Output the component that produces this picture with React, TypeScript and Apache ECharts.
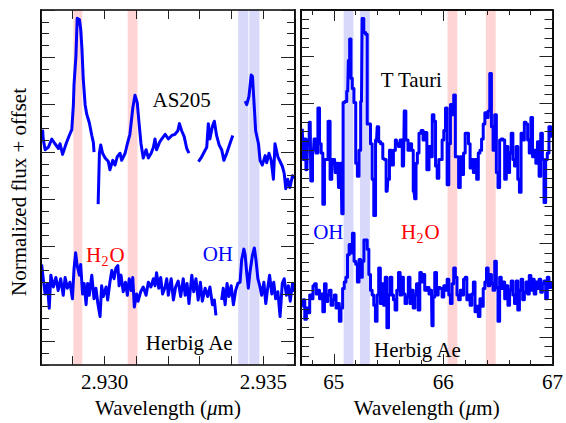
import React, { useEffect, useRef } from "react";
import * as echarts from "echarts";

const FONT = "Liberation Serif";

const leftRange = [2.928, 2.936];
const rightRange = [64.7, 67];
const leftTickValues = [2.93, 2.935];
const leftTickLabels = ["2.930", "2.935"];
const rightTickValues = [65, 66, 67];
const rightTickLabels = ["65", "66", "67"];

// AS205 (left, top) : [wavelength um, normalized flux + offset]
const as205 = [
  [2.92805, 19.9], [2.92807, 19.1], [2.92813, 18.2], [2.92823, 18.4], [2.92834, 19.1], [2.92844, 18.7],
  [2.92855, 18.3], [2.9286, 18.7], [2.92868, 17.8], [2.92879, 18.7], [2.92889, 19.4], [2.92897, 19.9],
  [2.92902, 22.0], [2.92904, 23.7], [2.9291, 26.1], [2.92914, 29.3], [2.92921, 29.2], [2.92925, 28.4],
  [2.92929, 26.7], [2.92933, 24.2], [2.92939, 22.0], [2.92944, 21.2], [2.92952, 20.5], [2.9296, 19.4],
  [2.92965, 18.8], [2.92967, 18.0], [2.92974, null], [2.9298, 13.6], [2.92984, 17.9], [2.92988, 18.6],
  [2.92994, 17.9], [2.93002, 17.5], [2.93012, 17.2], [2.93017, 16.5], [2.93026, 17.3], [2.93033, 16.9],
  [2.9304, 17.6], [2.93049, 17.9], [2.93054, 17.3], [2.93065, 17.9], [2.93072, 18.7], [2.9308, 19.5],
  [2.93089, 21.7], [2.93096, 22.8], [2.93103, 22.2], [2.93109, 20.4], [2.93115, 18.7], [2.93122, 17.5],
  [2.93131, 18.2], [2.93138, 17.5], [2.93147, 17.9], [2.93154, 18.4], [2.93159, 19.1], [2.93164, 18.2],
  [2.93173, 18.8], [2.9318, 19.1], [2.93191, 19.5], [2.93201, 19.1], [2.93212, 19.4], [2.93222, 19.5],
  [2.93231, 19.8], [2.93236, 20.4], [2.93243, 19.8], [2.93251, 19.3], [2.93259, 18.3], [2.93266, 17.9],
  [2.9328, null], [2.93296, 17.2], [2.93304, 17.5], [2.93314, 18.0], [2.93322, 18.4], [2.93327, 20.4],
  [2.93332, 19.1], [2.9334, 20.2], [2.93346, 20.6], [2.93353, 19.4], [2.93361, 18.6], [2.93369, 18.2],
  [2.93376, 17.3], [2.93385, 17.9], [2.93395, 18.7], [2.93404, 19.4], [2.9342, null], [2.93443, 22.3],
  [2.93448, 22.0], [2.93455, 22.7], [2.93462, 24.5], [2.93466, 24.4], [2.93472, 21.7], [2.93476, 19.8],
  [2.93485, 18.7], [2.9349, 17.3], [2.93497, 16.9], [2.93506, 17.7], [2.93511, 17.1], [2.93518, 17.9],
  [2.93525, 17.3], [2.93532, 15.7], [2.93537, 18.7], [2.93546, 17.6], [2.93553, 17.2], [2.9356, 16.8],
  [2.93566, 16.2], [2.93571, 14.9], [2.93577, 15.7], [2.93584, 15.0], [2.93592, 16.0], [2.93598, 15.8],
];

// Herbig Ae (left, bottom)
const herbigLeft = [
  [2.92802, 8.5], [2.92807, 7.3], [2.92813, 6.0], [2.9282, 6.9], [2.92826, 4.8], [2.92831, 7.6],
  [2.92839, 6.6], [2.92847, 7.4], [2.92854, 6.3], [2.92862, 7.3], [2.9287, 5.9], [2.92876, 7.4],
  [2.92883, 6.5], [2.92891, 7.0], [2.92899, 5.6], [2.92904, 8.1], [2.92909, 9.5], [2.92914, 8.4],
  [2.92921, 7.6], [2.92925, 8.5], [2.92931, 6.0], [2.92936, 6.9], [2.92942, 5.1], [2.92947, 6.9],
  [2.92952, 5.9], [2.9296, 7.6], [2.92967, 5.6], [2.92973, 6.5], [2.92979, 5.2], [2.92986, 4.1],
  [2.92991, 6.7], [2.92996, 5.8], [2.93005, 6.6], [2.9301, 5.5], [2.93017, 7.0], [2.93023, 8.0],
  [2.9303, 7.3], [2.93036, 8.2], [2.93042, 8.4], [2.93046, 6.7], [2.93052, 7.6], [2.93059, 6.2],
  [2.93066, 7.0], [2.93072, 5.9], [2.93078, 7.3], [2.93084, 6.3], [2.93089, 7.4], [2.93094, 4.9],
  [2.93101, 6.0], [2.93106, 5.4], [2.93114, 6.2], [2.93122, 6.6], [2.93131, 5.9], [2.93138, 7.0],
  [2.93146, 6.6], [2.93154, 7.3], [2.93159, 6.7], [2.93164, 7.8], [2.93171, 6.5], [2.93177, 7.4],
  [2.93183, 6.0], [2.93191, 6.6], [2.93196, 7.3], [2.93201, 5.9], [2.9321, 7.3], [2.93217, 5.5],
  [2.93224, 6.6], [2.93232, 7.1], [2.9324, 5.8], [2.93248, 7.3], [2.93254, 5.9], [2.9326, 6.9],
  [2.93266, 5.2], [2.93275, 7.6], [2.93281, 6.2], [2.93288, 7.3], [2.93295, 5.5], [2.93302, 7.0],
  [2.93308, 5.4], [2.93317, 6.5], [2.93325, 5.8], [2.93332, 6.6], [2.9334, 5.1], [2.93346, 5.5],
  [2.93351, 4.2], [2.9336, null], [2.93369, 5.5], [2.93374, 6.5], [2.9338, 5.1], [2.93386, 6.9],
  [2.93392, 5.8], [2.93399, 6.7], [2.93406, 5.1], [2.93413, 6.3], [2.9342, 6.9], [2.93427, 7.0],
  [2.93432, 8.9], [2.93439, 9.8], [2.93443, 9.3], [2.93448, 7.8], [2.93453, 6.5], [2.93458, 7.8],
  [2.93466, 9.3], [2.93472, 9.9], [2.93477, 8.9], [2.93483, 7.3], [2.93489, 6.7], [2.93495, 5.9],
  [2.93502, 7.0], [2.93508, 5.2], [2.93514, 6.5], [2.9352, 7.6], [2.93527, 6.0], [2.93533, 7.0],
  [2.93539, 5.6], [2.93546, 6.2], [2.93553, 4.1], [2.9356, 6.9], [2.93566, 7.3], [2.93573, 5.9],
  [2.93579, 6.7], [2.93585, 5.4], [2.93592, 6.9], [2.93598, 6.2],
];

// T Tauri (right, top)
const tTauri = [
  [64.712, 25.3], [64.724, 22.0], [64.736, 24.2], [64.754, 20.9], [64.766, 24.1], [64.784, 26.0],
  [64.796, 19.7], [64.814, 23.0], [64.826, 24.2], [64.847, 22.7], [64.862, 27.5], [64.877, 23.7],
  [64.892, 22.7], [64.907, 17.2], [64.922, 22.0], [64.937, 22.0], [64.958, 26.1], [64.974, 19.9],
  [64.989, 22.0], [65.007, 22.0], [65.019, 20.6], [65.037, 21.6], [65.049, 19.0], [65.067, 21.6],
  [65.079, 16.2], [65.091, 28.1], [65.109, 28.2], [65.127, 29.3], [65.139, 32.6], [65.151, 34.9],
  [65.163, 30.7], [65.175, 29.6], [65.193, 28.1], [65.208, 21.6], [65.223, 20.2], [65.238, 23.0],
  [65.253, 28.2], [65.265, 37.1], [65.283, 35.6], [65.298, 35.4], [65.313, 25.8], [65.328, 25.8],
  [65.343, 23.7], [65.358, 19.9], [65.373, 16.0], [65.391, 24.1], [65.403, 25.5], [65.418, 23.9],
  [65.439, 23.7], [65.457, 22.1], [65.469, 22.0], [65.488, 18.6], [65.5, 19.9], [65.518, 23.0],
  [65.536, 21.4], [65.554, 23.0], [65.572, 24.1], [65.584, 23.7], [65.599, 23.4], [65.614, 24.1],
  [65.638, 21.3], [65.65, 27.2], [65.668, 24.1], [65.689, 23.0], [65.704, 23.7], [65.719, 23.0],
  [65.734, 18.6], [65.746, 17.8], [65.758, 21.6], [65.77, 22.7], [65.788, 24.8], [65.809, 25.1],
  [65.824, 24.1], [65.839, 24.9], [65.863, 20.9], [65.878, 23.4], [65.893, 22.3], [65.908, 26.8],
  [65.923, 26.1], [65.938, 21.3], [65.953, 20.0], [65.968, 22.0], [65.983, 22.0], [65.998, 24.1],
  [66.014, 25.1], [66.029, 27.5], [66.044, 19.3], [66.059, 23.7], [66.074, 27.9], [66.089, 26.8],
  [66.104, 28.9], [66.119, 22.3], [66.134, 22.3], [66.149, 19.0], [66.164, 22.3], [66.179, 20.4],
  [66.194, 22.7], [66.209, 24.8], [66.224, 24.8], [66.239, 23.7], [66.254, 21.1], [66.269, 22.0],
  [66.284, 20.6], [66.299, 22.0], [66.314, 19.9], [66.329, 22.7], [66.344, 23.0], [66.359, 24.2],
  [66.374, 25.8], [66.389, 27.0], [66.404, 26.5], [66.419, 27.2], [66.434, 31.2], [66.449, 25.5],
  [66.464, 23.0], [66.479, 26.8], [66.494, 20.6], [66.509, 19.0], [66.524, 24.1], [66.539, 24.2],
  [66.555, 24.1], [66.57, 19.9], [66.585, 23.4], [66.6, 20.6], [66.615, 22.7], [66.63, 24.8],
  [66.645, 22.0], [66.66, 21.3], [66.675, 23.4], [66.69, 19.9], [66.705, 18.5], [66.72, 24.8],
  [66.735, 24.1], [66.75, 26.0], [66.765, 25.8], [66.78, 24.1], [66.795, 22.7], [66.81, 26.5],
  [66.825, 22.3], [66.84, 23.0], [66.855, 21.6], [66.87, 23.9], [66.885, 20.2], [66.9, 24.8],
  [66.915, 22.0], [66.93, 17.4], [66.945, 22.0], [66.96, 22.7], [66.975, 25.5], [66.995, 24.5],
];

// Herbig Ae (right, bottom)
const herbigRight = [
  [64.712, 6.3], [64.727, 7.0], [64.742, 4.9], [64.757, 6.1], [64.772, 5.6], [64.787, 7.5],
  [64.802, 7.1], [64.817, 8.5], [64.832, 8.7], [64.847, 7.6], [64.862, 8.0], [64.877, 7.1],
  [64.892, 7.6], [64.907, 5.7], [64.922, 8.7], [64.937, 6.8], [64.952, 7.5], [64.967, 8.0],
  [64.983, 6.4], [64.998, 7.0], [65.013, 7.5], [65.028, 6.1], [65.043, 6.6], [65.058, 4.7],
  [65.073, 6.1], [65.088, 8.2], [65.103, 8.9], [65.118, 9.4], [65.133, 11.8], [65.148, 12.9],
  [65.163, 12.0], [65.178, 14.1], [65.193, 11.1], [65.208, 10.8], [65.223, 8.9], [65.238, 11.3],
  [65.253, 9.4], [65.268, 11.1], [65.283, 13.4], [65.298, 13.4], [65.313, 12.4], [65.328, 9.7],
  [65.343, 8.0], [65.358, 7.5], [65.373, 6.4], [65.388, 4.7], [65.403, 7.5], [65.418, 10.4],
  [65.433, 6.6], [65.448, 8.7], [65.463, 6.4], [65.478, 9.4], [65.493, 4.0], [65.508, 7.5],
  [65.523, 9.4], [65.538, 7.5], [65.553, 7.0], [65.568, 5.9], [65.584, 8.0], [65.599, 9.9],
  [65.614, 7.5], [65.629, 9.4], [65.644, 7.6], [65.659, 6.6], [65.674, 7.3], [65.689, 9.4],
  [65.704, 6.6], [65.719, 8.0], [65.734, 6.1], [65.749, 7.5], [65.764, 8.7], [65.779, 5.9],
  [65.794, 9.9], [65.809, 8.9], [65.824, 9.7], [65.839, 8.0], [65.863, 8.3], [65.878, 7.6],
  [65.893, 8.0], [65.902, 4.2], [65.914, 7.3], [65.932, 9.9], [65.947, 7.5], [65.962, 8.3],
  [65.983, 8.2], [65.998, 7.3], [66.014, 8.5], [66.029, 8.0], [66.044, 9.2], [66.059, 7.5],
  [66.074, 6.6], [66.089, 8.7], [66.104, 10.4], [66.119, 9.4], [66.134, 7.5], [66.149, 7.0],
  [66.164, 8.0], [66.179, 7.5], [66.194, 9.2], [66.209, 9.4], [66.224, 7.0], [66.239, 7.5],
  [66.254, 6.4], [66.269, 7.6], [66.284, 8.9], [66.299, 5.7], [66.314, 6.3], [66.329, 5.2],
  [66.344, 7.1], [66.359, 6.3], [66.374, 8.2], [66.389, 8.9], [66.404, 10.4], [66.419, 8.5],
  [66.434, 9.7], [66.449, 8.7], [66.464, 8.0], [66.479, 11.1], [66.494, 8.3], [66.509, 4.7],
  [66.524, 9.4], [66.539, 8.2], [66.555, 8.9], [66.57, 7.1], [66.585, 8.5], [66.6, 6.4],
  [66.615, 8.0], [66.63, 9.0], [66.645, 7.5], [66.66, 6.6], [66.675, 9.0], [66.69, 5.9],
  [66.705, 8.0], [66.72, 9.2], [66.735, 7.0], [66.75, 7.8], [66.765, 8.9], [66.78, 7.6],
  [66.795, 9.6], [66.81, 8.0], [66.825, 9.2], [66.84, 7.6], [66.855, 8.9], [66.87, 8.2],
  [66.885, 9.2], [66.9, 7.8], [66.915, 8.7], [66.93, 9.0], [66.945, 7.1], [66.96, 9.4],
  [66.975, 8.3], [66.995, 8.8],
];

const leftH2OBands = [[2.92902, 2.9293], [2.93073, 2.93104]];
const leftOHBands = [[2.93421, 2.93453], [2.93456, 2.93488]];
const rightOHBands = [[65.09, 65.18], [65.24, 65.33]];
const rightH2OBands = [[66.04, 66.13], [66.39, 66.48]];

const RED_BAND = "#ffd4d4";
const BLUE_BAND = "#d8d8fb";
const LINE_BLUE = "#0000ff";

// tick positions (axis furniture, not data)
function steps(start: number, end: number, step: number, digits: number) {
  const out: number[] = [];
  const n = Math.round((end - start) / step);
  for (let i = 0; i <= n; i++) out.push(Number((start + i * step).toFixed(digits)));
  return out;
}
const leftXTicks = steps(2.928, 2.936, 0.001, 4);
const rightXMinor = steps(64.8, 67, 0.2, 2);
const leftYMinor = steps(0, 30, 1, 0);
const leftYMajor = steps(2, 30, 4, 0);
const rightYMinor = steps(0, 38, 1, 0);
const rightYMajor = steps(3, 38, 5, 0);

function makeFormatter(values: number[], labels: string[]) {
  return (v: number) => {
    for (let i = 0; i < values.length; i++) {
      if (Math.abs(v - values[i]) < 1e-7) return labels[i];
    }
    return "";
  };
}

function xAxis(gridIndex: number, position: string, range: number[], ticks: number[], tickLen: number, labelVals?: number[], labelFn?: any, withName?: boolean) {
  return {
    type: "value",
    gridIndex,
    position,
    min: range[0],
    max: range[1],
    z: 5,
    axisLine: { show: true, onZero: false, lineStyle: { color: "#000", width: 1.6 } },
    axisTick: { show: true, inside: true, length: tickLen, customValues: ticks, lineStyle: { color: "#222", width: 1 } },
    axisLabel: labelFn
      ? { show: true, customValues: labelVals, formatter: labelFn, margin: 6, color: "#000", fontFamily: FONT, fontSize: 21 }
      : { show: false },
    splitLine: { show: false },
    name: withName ? "Wavelength ({i|\u03bc}m)" : "",
    nameLocation: "middle",
    nameGap: 28,
    nameTextStyle: {
      color: "#000",
      fontFamily: FONT,
      fontSize: 21,
      rich: { i: { fontStyle: "italic", fontFamily: FONT, fontSize: 21, color: "#000" } },
    },
  };
}

function yAxis(gridIndex: number, position: string, max: number, ticks: number[], tickLen: number) {
  return {
    type: "value",
    gridIndex,
    position,
    min: 0,
    max,
    z: 5,
    axisLine: { show: true, onZero: false, lineStyle: { color: "#000", width: 1.6 } },
    axisTick: { show: true, inside: true, length: tickLen, customValues: ticks, lineStyle: { color: "#222", width: 1 } },
    axisLabel: { show: false },
    splitLine: { show: false },
  };
}

function bandSeries(xIdx: number, yIdx: number, bands: number[][], color: string, yMin: number, yMax: number) {
  return {
    type: "custom",
    xAxisIndex: xIdx,
    yAxisIndex: yIdx,
    z: 1,
    silent: true,
    data: bands,
    renderItem: (params: any, api: any) => {
      const p0 = api.coord([api.value(0), yMax]);
      const p1 = api.coord([api.value(1), yMin]);
      return {
        type: "rect",
        shape: { x: p0[0], y: p0[1], width: p1[0] - p0[0], height: p1[1] - p0[1] },
        style: { fill: color },
      };
    },
  };
}

function lineSeries(xIdx: number, yIdx: number, data: any[], step: any, width: number) {
  return {
    type: "line",
    xAxisIndex: xIdx,
    yAxisIndex: yIdx,
    data,
    step,
    z: 3,
    showSymbol: false,
    symbol: "none",
    connectNulls: false,
    lineStyle: { color: LINE_BLUE, width, join: "round" },
    silent: true,
  };
}

function txt(text: string, x: number, y: number, color: string, size = 21, align = "center") {
  return {
    type: "text",
    x,
    y,
    z: 10,
    style: { text, fill: color, fontFamily: FONT, fontSize: size, align, verticalAlign: "middle" },
  };
}

export default function App() {
  const ref = useRef<HTMLDivElement>(null);
  useEffect(() => {
    if (!ref.current) return;
    const chart = echarts.init(ref.current, null, { renderer: "svg" });
    const leftFmt = makeFormatter(leftTickValues, leftTickLabels);
    const rightFmt = makeFormatter(rightTickValues, rightTickLabels);
    const option: any = {
      animation: false,
      backgroundColor: "#fff",
      textStyle: { fontFamily: FONT },
      grid: [
        { left: 41, top: 10, width: 254, height: 363 },
        { left: 301, top: 10, width: 255, height: 363 },
      ],
      xAxis: [
        xAxis(0, "bottom", leftRange, leftXTicks, 9, leftTickValues, leftFmt, true),
        xAxis(0, "top", leftRange, leftXTicks, 9),
        xAxis(1, "bottom", rightRange, rightXMinor, 5),
        xAxis(1, "bottom", rightRange, rightTickValues, 11, rightTickValues, rightFmt, true),
        xAxis(1, "top", rightRange, rightXMinor, 5),
        xAxis(1, "top", rightRange, rightTickValues, 11),
      ],
      yAxis: [
        yAxis(0, "left", 30, leftYMinor, 8),
        yAxis(0, "left", 30, leftYMajor, 14),
        yAxis(0, "right", 30, leftYMinor, 8),
        yAxis(0, "right", 30, leftYMajor, 14),
        yAxis(1, "left", 38, rightYMinor, 8),
        yAxis(1, "left", 38, rightYMajor, 13),
        yAxis(1, "right", 38, rightYMinor, 8),
        yAxis(1, "right", 38, rightYMajor, 13),
      ],
      series: [
        bandSeries(0, 0, leftH2OBands, RED_BAND, 0, 30),
        bandSeries(0, 0, leftOHBands, BLUE_BAND, 0, 30),
        bandSeries(2, 4, rightOHBands, BLUE_BAND, 0, 38),
        bandSeries(2, 4, rightH2OBands, RED_BAND, 0, 38),
        lineSeries(0, 0, as205, false, 3),
        lineSeries(0, 0, herbigLeft, false, 3),
        lineSeries(2, 4, tTauri, "middle", 3),
        lineSeries(2, 4, herbigRight, "middle", 3),
      ],
      graphic: [
        {
          type: "text",
          x: 19,
          y: 192,
          rotation: Math.PI / 2,
          style: { text: "Normalized flux + offset", fill: "#000", fontFamily: FONT, fontSize: 21, align: "center", verticalAlign: "middle" },
        },
        txt("AS205", 181.7, 100.3, "#000"),
        txt("Herbig Ae", 189.2, 343.3, "#000"),
        txt("OH", 217.8, 253.7, LINE_BLUE),
        txt("H", 86, 255.3, "#ff0000", 21, "left"),
        txt("2", 101.5, 261, "#ff0000", 14, "left"),
        txt("O", 109.5, 255.3, "#ff0000", 21, "left"),
        txt("T Tauri", 411.3, 80, "#000"),
        txt("Herbig Ae", 417.5, 350.3, "#000"),
        txt("OH", 328.3, 232, LINE_BLUE),
        txt("H", 401, 232, "#ff0000", 21, "left"),
        txt("2", 416.5, 238, "#ff0000", 14, "left"),
        txt("O", 424.5, 232, "#ff0000", 21, "left"),
      ],
    };
    chart.setOption(option);
    return () => chart.dispose();
  }, []);
  return (
    <div
      ref={ref}
      style={{ position: "fixed", left: 0, top: 0, width: 566, height: 423, background: "#fff" }}
    />
  );
}
